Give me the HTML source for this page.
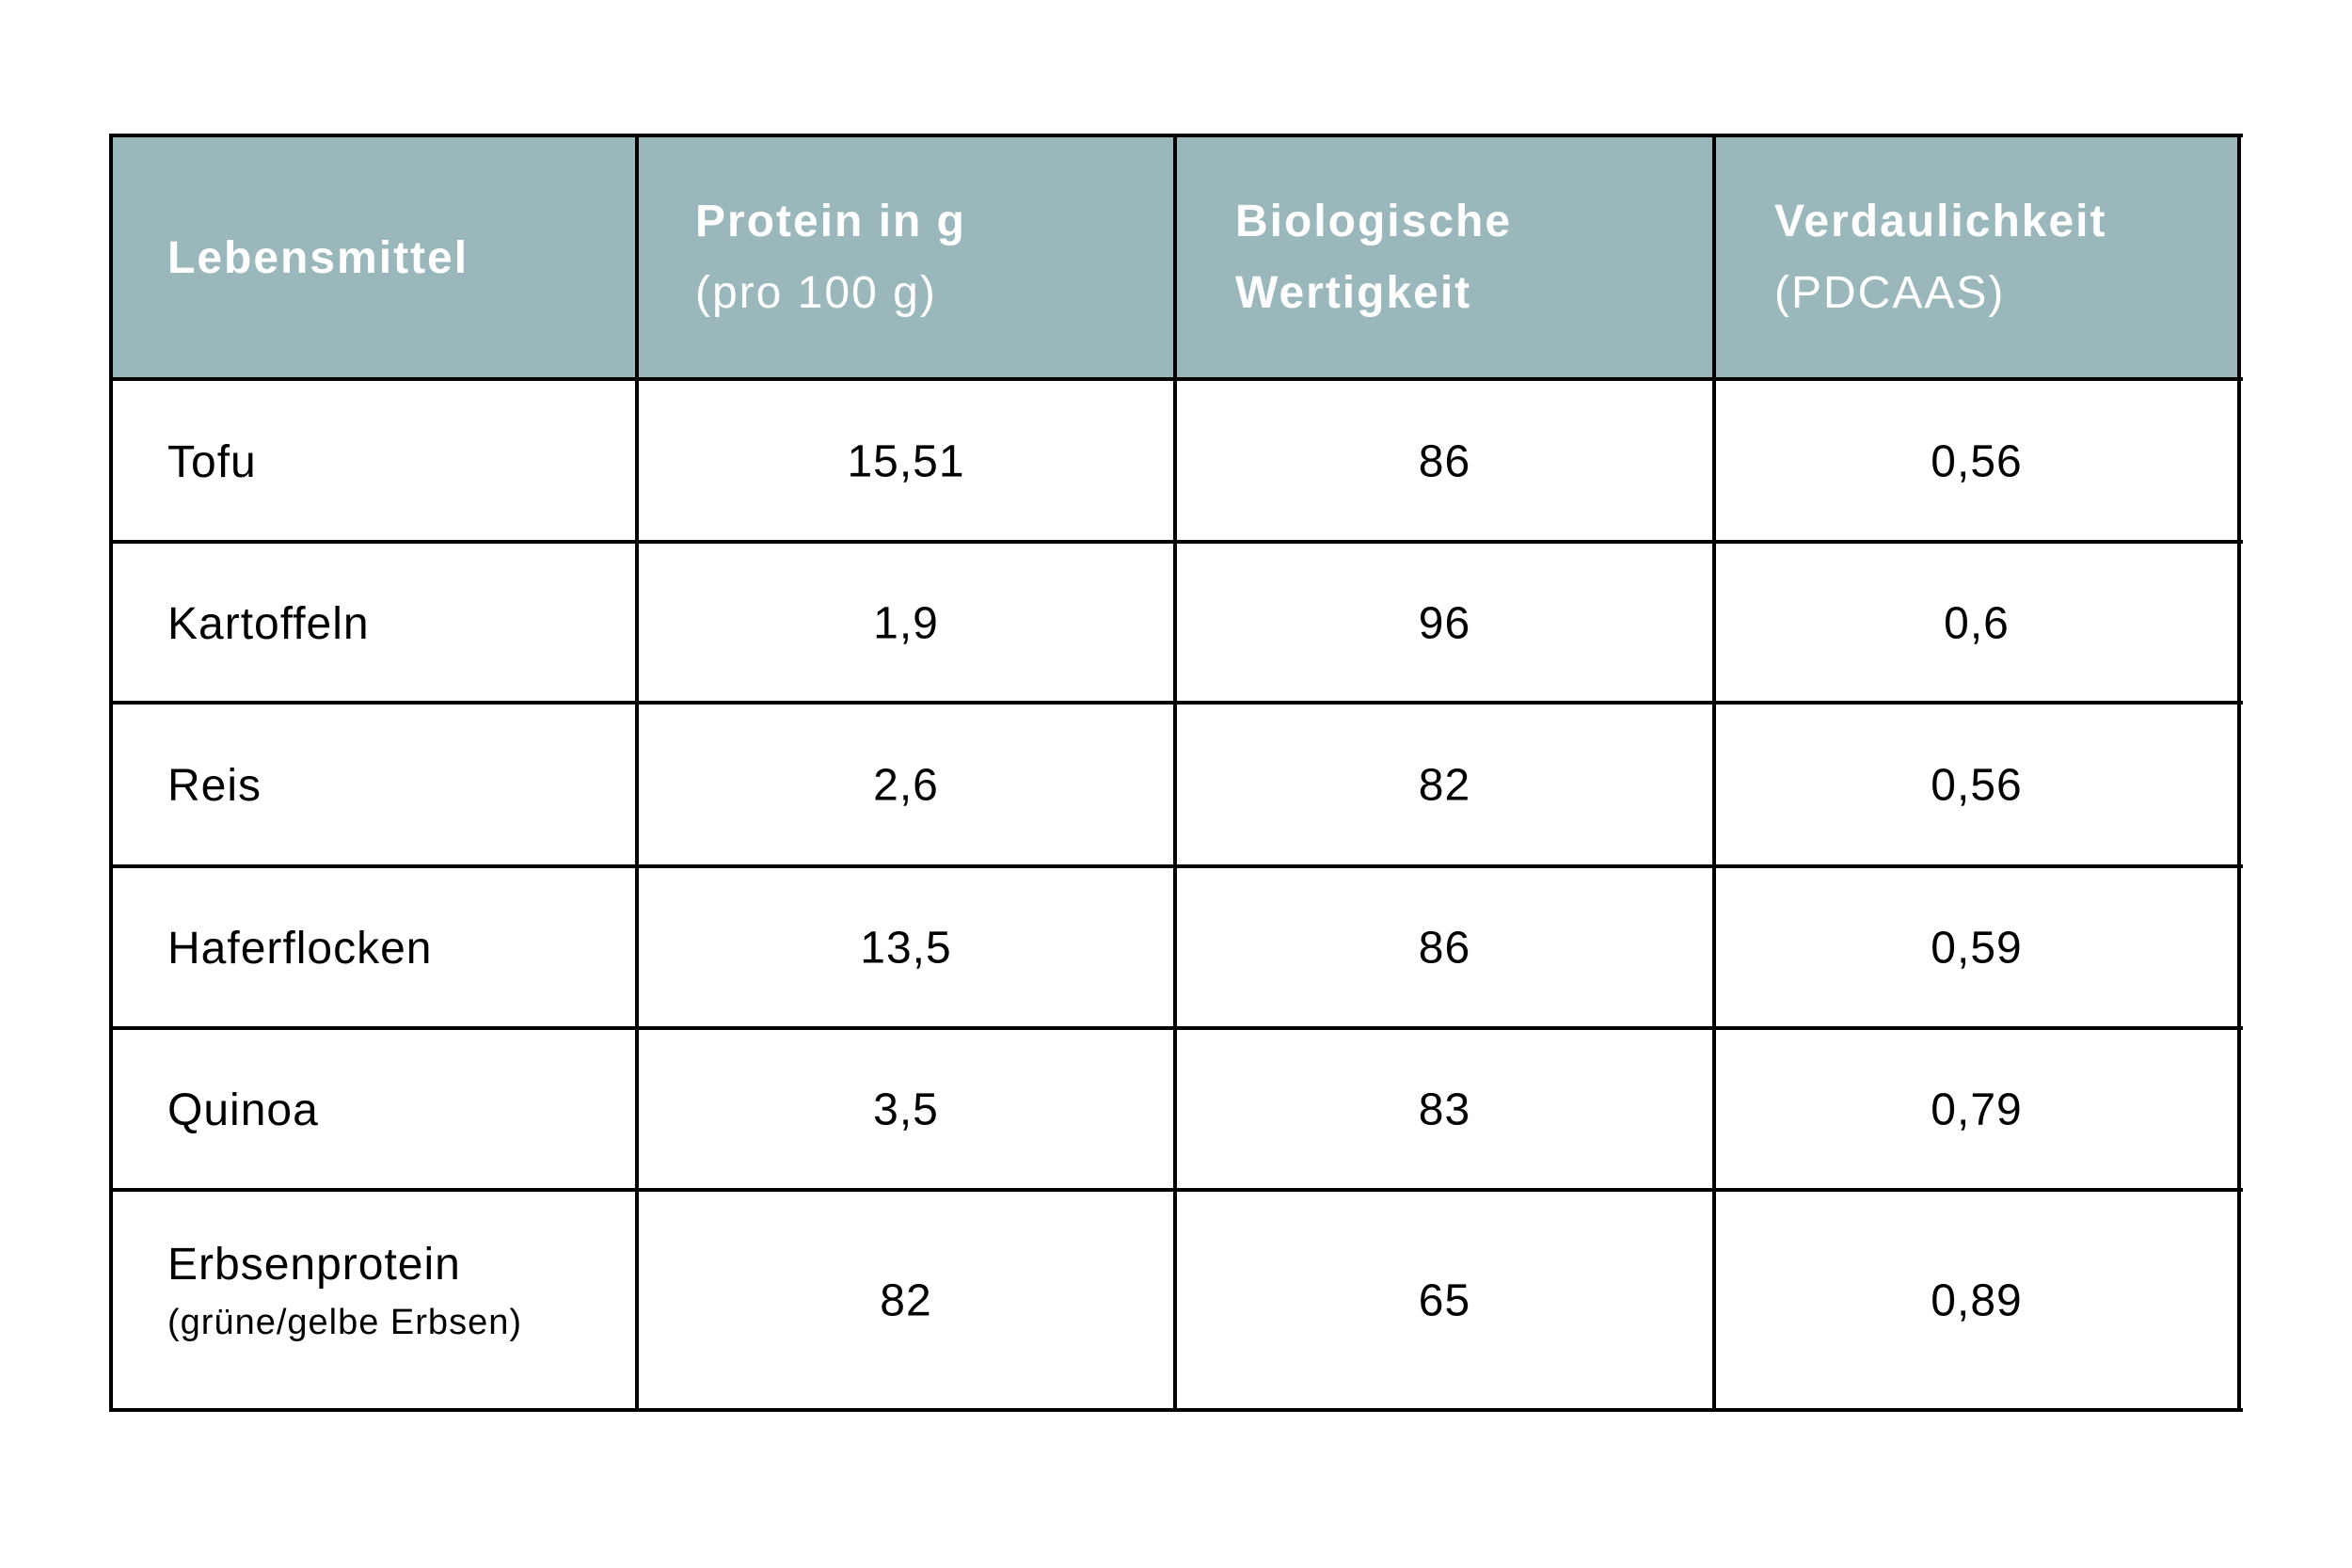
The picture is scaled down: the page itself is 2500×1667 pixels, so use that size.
<!DOCTYPE html>
<html><head><meta charset="utf-8">
<style>
body{margin:0;width:2500px;height:1667px;background:#fff;position:relative;overflow:hidden;font-family:"Liberation Sans",sans-serif;}
.hd{position:absolute;left:118px;top:144px;width:2262px;height:259px;background:#9ab8bb;}
.h{position:absolute;background:#000;height:4px;left:116px;width:2268px;}
.v{position:absolute;background:#000;width:4px;top:142px;height:1359px;}
.t{position:absolute;font-size:48px;color:#000;white-space:nowrap;letter-spacing:1px;}
.th{color:#fff;font-weight:bold;line-height:76px;letter-spacing:2px;}
.c{transform:translate(-50%,-50%);}
</style></head><body>
<div class="hd"></div>
<div id="grid"></div>
<div class="t th" style="left:178px;top:237px;">Lebensmittel</div>
<div class="t th" style="left:739px;top:198px;">Protein in g<br><span style="font-weight:normal">(pro 100 g)</span></div>
<div class="t th" style="left:1313px;top:198px;">Biologische<br>Wertigkeit</div>
<div class="t th" style="left:1886px;top:198px;">Verdaulichkeit<br><span style="font-weight:normal">(PDCAAS)</span></div>
<div id="body"></div>
<script>
const foods=["Tofu","Kartoffeln","Reis","Haferflocken","Quinoa","Erbsenprotein"];
const protein=["15,51","1,9","2,6","13,5","3,5","82"];
const bw=["86","96","82","86","83","65"];
const pdcaas=["0,56","0,6","0,56","0,59","0,79","0,89"];
const rowY=[403,576,747,921,1093,1265,1499];
const colX=[118,677,1249,1822,2380];
const g=document.getElementById('grid');
[144].concat(rowY).forEach(y=>{const d=document.createElement('div');d.className='h';d.style.top=(y-2)+'px';


g.appendChild(d);});
colX.forEach(x=>{const d=document.createElement('div');d.className='v';d.style.left=(x-2)+'px';


g.appendChild(d);});
const b=document.getElementById('body');
foods.forEach((f,i)=>{
 const cy=(rowY[i]+rowY[i+1])/2;
 const n=document.createElement('div');n.className='t';
 
 
 n.style.left='178px';
 if(i===5){n.innerHTML=f+'<br><span style="font-size:38px">(grüne/gelbe Erbsen)</span>';n.style.top=(cy-66)+'px';n.style.lineHeight='58px';}
 else{n.textContent=f;n.style.top=(cy-26)+'px';}
 b.appendChild(n);
 [protein,bw,pdcaas].forEach((arr,j)=>{
  const d=document.createElement('div');d.className='t c';
  
  
  d.textContent=arr[i];
  d.style.left=((colX[j+1]+colX[j+2])/2)+'px';d.style.top=(cy+1)+'px';
  b.appendChild(d);
 });
});
</script>
</body></html>
